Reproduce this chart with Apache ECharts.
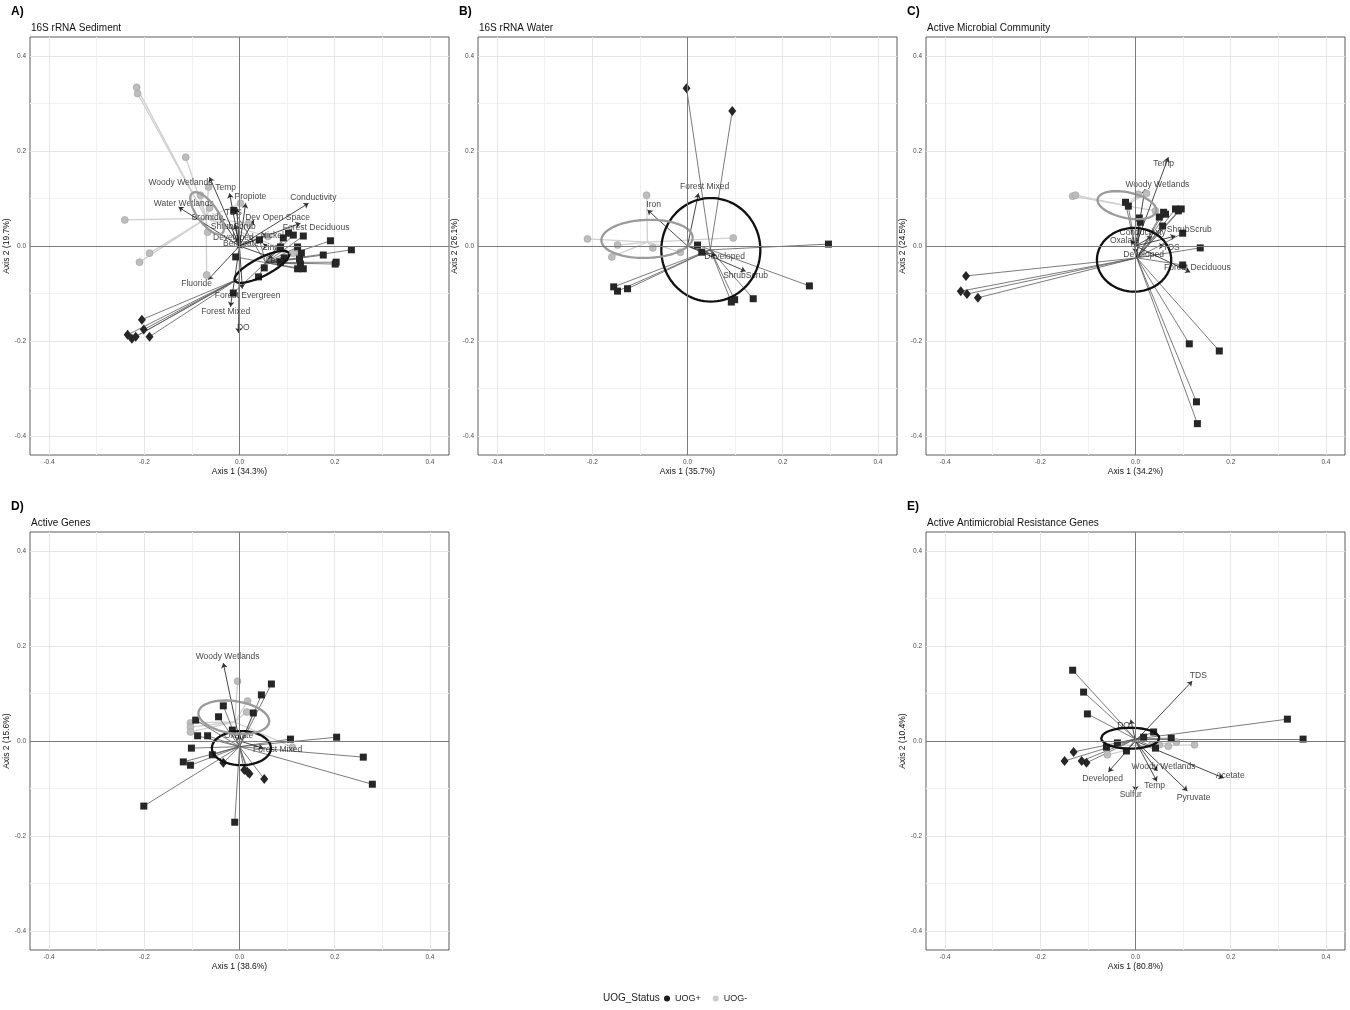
<!DOCTYPE html>
<html><head><meta charset="utf-8">
<script src="https://cdn.jsdelivr.net/npm/echarts/dist/echarts.min.js"></script>
<style>html,body{margin:0;padding:0;background:#fff}#c{width:1350px;height:1010px}</style>
</head><body><div id="c"></div>
<script>
// ---------- DATA (values in ordination axis units) ----------
const panelTags = ['A)', 'B)', 'C)', 'D)', 'E)'];
const panelTitles = ['16S rRNA Sediment', '16S rRNA Water', 'Active Microbial Community', 'Active Genes', 'Active Antimicrobial Resistance Genes'];
const axis1Names = ['Axis 1 (34.3%)', 'Axis 1 (35.7%)', 'Axis 1 (34.2%)', 'Axis 1 (38.6%)', 'Axis 1 (80.8%)'];
const axis2Names = ['Axis 2 (19.7%)', 'Axis 2 (26.1%)', 'Axis 2 (24.5%)', 'Axis 2 (15.6%)', 'Axis 2 (10.4%)'];
const tickValues = [-0.4, -0.2, 0.0, 0.2, 0.4];
const legendNames = ['UOG+', 'UOG-'];

// Panel A
const A_squares = [[0.042,0.013],[0.092,0.017],[0.103,0.027],[0.113,0.023],[0.134,0.021],[0.191,0.011],[0.235,-0.008],[0.086,-0.002],[0.122,-0.002],[0.130,-0.015],[0.176,-0.019],[0.126,-0.027],[0.128,-0.038],[0.122,-0.048],[0.134,-0.048],[0.201,-0.038],[0.203,-0.034],[0.094,-0.025],[0.086,-0.034],[0.052,-0.046],[0.040,-0.065],[-0.008,-0.023],[-0.013,-0.099],[-0.012,0.075]];
const A_diamonds = [[-0.205,-0.155],[-0.201,-0.176],[-0.189,-0.191],[-0.235,-0.187],[-0.226,-0.195],[-0.218,-0.191]];
const A_circles = [[-0.216,0.334],[-0.214,0.321],[-0.113,0.187],[-0.065,0.124],[-0.082,0.107],[-0.063,0.080],[-0.241,0.055],[-0.189,-0.015],[-0.210,-0.034],[-0.069,-0.061],[-0.067,0.029],[0.002,0.090],[0.019,0.048],[0.060,0.020],[0.113,-0.015]];
const A_centroids = {squares:[0.055,-0.035], diamonds:[-0.004,-0.070], circles:[-0.070,0.058]};
const A_ellipses = [{g:'UOG+',cx:0.047,cy:-0.044,a:0.064,b:0.019,ang:27},{g:'UOG-',cx:-0.068,cy:0.069,a:0.053,b:0.021,ang:-54}];
const A_arrows = [
 ['Woody Wetlands',-0.063,0.145,-0.124,0.134],['Temp',-0.021,0.111,-0.029,0.122],['Propiote',0.013,0.090,0.023,0.103],
 ['TDS',-0.006,0.080,-0.013,0.071],['Conductivity',0.145,0.090,0.155,0.101],['Water Wetlands',-0.128,0.082,-0.117,0.090],
 ['Bromide',-0.040,0.060,-0.067,0.059],['Dev Open Space',0.030,0.055,0.080,0.059],['ShrubScrub',-0.010,0.045,-0.013,0.040],
 ['Forest Deciduous',0.128,0.048,0.161,0.038],['Developed',-0.005,0.020,-0.013,0.017],['Nickel',0.060,0.025,0.069,0.021],
 ['Benzoate',0.000,0.005,0.003,0.005],['Zinc',0.060,0.000,0.065,-0.004],['Lead',0.070,-0.025,0.075,-0.030],
 ['Fluoride',-0.066,-0.071,-0.090,-0.080],['Forest Evergreen',0.006,-0.090,0.017,-0.105],['Forest Mixed',-0.019,-0.128,-0.029,-0.139],
 ['DO',-0.002,-0.183,0.008,-0.172]];

// Panel B
const B_squares = [[0.021,0.002],[0.030,-0.013],[0.296,0.004],[0.256,-0.084],[0.138,-0.111],[0.099,-0.113],[0.092,-0.118],[-0.155,-0.086],[-0.147,-0.095],[-0.126,-0.090]];
const B_diamonds = [[-0.002,0.332],[0.094,0.284]];
const B_circles = [[-0.086,0.107],[-0.210,0.015],[-0.147,0.002],[-0.159,-0.023],[-0.073,-0.004],[-0.015,-0.013],[0.096,0.017]];
const B_centroids = {squares:[0.048,-0.008], diamonds:[0.048,-0.008], circles:[-0.084,0.008]};
const B_ellipses = [{g:'UOG+',cx:0.049,cy:-0.008,a:0.104,b:0.109,ang:0},{g:'UOG-',cx:-0.085,cy:0.015,a:0.096,b:0.040,ang:2}];
const B_arrows = [['Forest Mixed',0.023,0.111,0.036,0.124],['Iron',-0.084,0.076,-0.071,0.086],['Developed',0.060,-0.020,0.078,-0.023],['ShrubScrub',0.122,-0.053,0.122,-0.063]];

// Panel C
const C_squares = [[-0.021,0.092],[-0.015,0.084],[0.008,0.059],[0.010,0.050],[0.059,0.071],[0.050,0.061],[0.063,0.067],[0.084,0.078],[0.090,0.074],[0.096,0.078],[0.057,0.042],[0.099,0.027],[0.136,-0.004],[0.099,-0.040],[0.113,-0.206],[0.176,-0.221],[0.128,-0.328],[0.130,-0.374]];
const C_diamonds = [[-0.356,-0.063],[-0.367,-0.095],[-0.354,-0.101],[-0.331,-0.109]];
const C_circles = [[-0.132,0.105],[-0.126,0.107],[0.006,0.109],[0.023,0.111],[0.042,0.074]];
const C_centroids = {squares:[0.003,-0.025], diamonds:[0.003,-0.025], circles:[-0.020,0.085]};
const C_ellipses = [{g:'UOG+',cx:-0.003,cy:-0.029,a:0.078,b:0.067,ang:0},{g:'UOG-',cx:-0.018,cy:0.086,a:0.063,b:0.027,ang:-12}];
const C_arrows = [['Temp',0.069,0.187,0.059,0.174],['Woody Wetlands',0.020,0.120,0.046,0.130],['ShrubScrub',0.084,0.021,0.113,0.034],['Conductivity',0.035,0.020,0.015,0.029],['Oxalate',-0.010,0.012,-0.023,0.011],['TDS',0.060,0.000,0.075,-0.004],['Developed',0.000,-0.015,0.017,-0.019],['Forest Deciduous',0.115,-0.055,0.130,-0.046]];

// Panel D
const D_squares = [[0.067,0.120],[0.046,0.097],[-0.034,0.074],[0.029,0.059],[-0.044,0.051],[-0.092,0.044],[-0.015,0.023],[-0.088,0.011],[-0.067,0.011],[0.107,0.004],[0.204,0.008],[-0.101,-0.015],[-0.057,-0.029],[-0.118,-0.044],[-0.103,-0.051],[0.260,-0.034],[0.279,-0.091],[-0.201,-0.137],[-0.010,-0.171]];
const D_diamonds = [[-0.034,-0.046],[0.010,-0.061],[0.017,-0.065],[0.021,-0.069],[0.052,-0.080]];
const D_circles = [[-0.004,0.126],[0.017,0.084],[0.015,0.061],[-0.103,0.038],[-0.103,0.029],[-0.103,0.019],[0.111,-0.013]];
const D_centroids = {squares:[0.000,-0.012], diamonds:[0.000,-0.012], circles:[-0.010,0.040]};
const D_ellipses = [{g:'UOG+',cx:0.004,cy:-0.015,a:0.062,b:0.036,ang:0},{g:'UOG-',cx:-0.012,cy:0.050,a:0.075,b:0.034,ang:-8}];
const D_arrows = [['Woody Wetlands',-0.034,0.164,-0.025,0.177],['Oxalate',0.000,0.012,-0.002,0.011],['Forest Mixed',0.050,-0.015,0.080,-0.019]];

// Panel E
const E_squares = [[-0.132,0.149],[-0.109,0.103],[-0.101,0.057],[0.319,0.046],[0.352,0.004],[0.038,0.019],[0.075,0.006],[0.017,0.008],[-0.038,-0.004],[-0.061,-0.013],[-0.019,-0.021],[0.042,-0.015]];
const E_diamonds = [[-0.130,-0.023],[-0.149,-0.042],[-0.113,-0.042],[-0.103,-0.046]];
const E_circles = [[0.124,-0.008],[0.086,-0.002],[0.069,-0.011],[0.034,-0.008],[-0.036,-0.008],[-0.059,-0.029],[0.050,-0.008]];
const E_centroids = {squares:[0.000,0.004], diamonds:[0.000,0.004], circles:[0.020,-0.010]};
const E_ellipses = [{g:'UOG+',cx:-0.011,cy:0.006,a:0.061,b:0.022,ang:0}];
const E_arrows = [['TDS',0.119,0.126,0.132,0.137],['DO',-0.010,0.045,-0.025,0.032],['Woody Wetlands',0.046,-0.063,0.059,-0.055],['Acetate',0.185,-0.078,0.199,-0.072],['Developed',-0.057,-0.065,-0.069,-0.080],['Temp',0.045,-0.085,0.040,-0.093],['Sulfur',0.000,-0.105,-0.010,-0.114],['Pyruvate',0.109,-0.105,0.122,-0.120]];

// ---------- LAYOUT / STYLE ----------
const FONT = 'Liberation Sans, Arial, sans-serif';
const gridPos = [[30,37],[478,37],[926,37],[30,532],[926,532]];
const GW = 419, GH = 418;
const panels = [
 {sq:A_squares, dm:A_diamonds, ci:A_circles, ctr:A_centroids, ell:A_ellipses, arr:A_arrows},
 {sq:B_squares, dm:B_diamonds, ci:B_circles, ctr:B_centroids, ell:B_ellipses, arr:B_arrows},
 {sq:C_squares, dm:C_diamonds, ci:C_circles, ctr:C_centroids, ell:C_ellipses, arr:C_arrows},
 {sq:D_squares, dm:D_diamonds, ci:D_circles, ctr:D_centroids, ell:D_ellipses, arr:D_arrows},
 {sq:E_squares, dm:E_diamonds, ci:E_circles, ctr:E_centroids, ell:E_ellipses, arr:E_arrows}
];
const BLACK = '#262626', GREY = '#bdbdbd';
const splitColors = ['rgba(0,0,0,0)','rgba(0,0,0,0)','#e6e6e6','rgba(0,0,0,0)','rgba(0,0,0,0)','rgba(0,0,0,0)','rgba(0,0,0,0)','#f1f1f1','rgba(0,0,0,0)','rgba(0,0,0,0)'];

function tickFmt(v){
  for (const t of tickValues) if (Math.abs(v - t) < 1e-6) return t.toFixed(1);
  return '';
}
function ellipsePts(e){
  const pts = [], t = e.ang * Math.PI / 180;
  for (let i = 0; i <= 96; i++) {
    const th = i / 96 * 2 * Math.PI, u = e.a * Math.cos(th), v = e.b * Math.sin(th);
    pts.push([e.cx + u*Math.cos(t) - v*Math.sin(t), e.cy + u*Math.sin(t) + v*Math.cos(t)]);
  }
  return pts;
}

const grids = [], xAxes = [], yAxes = [], series = [], titles = [];
panels.forEach((p, i) => {
  const [gl, gt] = gridPos[i];
  grids.push({left:gl, top:gt, width:GW, height:GH, show:true, borderColor:'#333', borderWidth:0.8, backgroundColor:'#fff'});
  const axBase = {gridIndex:i, type:'value', min:-0.44, max:0.44, interval:0.02,
    nameLocation:'middle', nameTextStyle:{fontSize:8.5, color:'#111', fontFamily:FONT},
    axisLine:{show:false}, axisTick:{show:false},
    axisLabel:{fontSize:6.5, color:'#4d4d4d', fontFamily:FONT, margin:4, formatter:tickFmt, showMinLabel:true, showMaxLabel:true},
    splitLine:{show:true, showMinLine:true, showMaxLine:true, lineStyle:{color:splitColors, width:1}}};
  xAxes.push(Object.assign({}, axBase, {name:axis1Names[i], nameGap:9}));
  yAxes.push(Object.assign({}, axBase, {name:axis2Names[i], nameGap:15}));
  titles.push({text:panelTags[i], left:gl-19, top:gt-31, padding:0, textStyle:{fontSize:12, fontWeight:'bold', color:'#000', fontFamily:FONT}});
  titles.push({text:panelTitles[i], left:gl+1, top:gt-14, padding:0, textStyle:{fontSize:10, fontWeight:'normal', color:'#111', fontFamily:FONT}});

  const ax = {xAxisIndex:i, yAxisIndex:i};
  // zero reference lines
  series.push(Object.assign({type:'line', data:[], silent:true,
    markLine:{silent:true, symbol:['none','none'], label:{show:false}, lineStyle:{color:'#7a7a7a', width:1, type:'solid', opacity:1},
      data:[{xAxis:0},{yAxis:0}]}}, ax));
  // spiders
  const spider = [];
  p.ci.forEach(pt => spider.push({coords:[p.ctr.circles, pt], lineStyle:{color:'#d0d0d0', width:1.3, opacity:1}}));
  p.sq.forEach(pt => spider.push({coords:[p.ctr.squares, pt], lineStyle:{color:'#5a5a5a', width:0.8, opacity:1}}));
  p.dm.forEach(pt => spider.push({coords:[p.ctr.diamonds, pt], lineStyle:{color:'#5a5a5a', width:0.8, opacity:1}}));
  series.push(Object.assign({type:'lines', coordinateSystem:'cartesian2d', polyline:false, silent:true, symbol:['none','none'],
    lineStyle:{opacity:1}, data:spider}, ax));
  // ellipses
  p.ell.forEach(e => series.push(Object.assign({type:'line', silent:true, showSymbol:false, symbol:'none', smooth:false,
    lineStyle:{color: e.g === 'UOG+' ? '#111' : '#9a9a9a', width:2.3}, data:ellipsePts(e)}, ax)));
  // points
  series.push(Object.assign({type:'scatter', name:'UOG-', symbol:'circle', symbolSize:7, data:p.ci,
    itemStyle:{color:GREY, borderColor:'#a3a3a3', borderWidth:0.6, opacity:1}}, ax));
  series.push(Object.assign({type:'scatter', name:'UOG+', symbol:'rect', symbolSize:7, data:p.sq,
    itemStyle:{color:BLACK, opacity:1}}, ax));
  series.push(Object.assign({type:'scatter', name:'UOG+', symbol:'diamond', symbolSize:[8,10], data:p.dm,
    itemStyle:{color:BLACK, opacity:1}}, ax));
  // arrows
  series.push(Object.assign({type:'lines', coordinateSystem:'cartesian2d', polyline:false, silent:true,
    symbol:['none','arrow'], symbolSize:5, lineStyle:{color:'#333', width:0.9, opacity:1},
    data:p.arr.map(a => ({coords:[[0,0],[a[1],a[2]]]}))}, ax));
  // labels
  series.push(Object.assign({type:'scatter', silent:true, symbolSize:1, itemStyle:{color:'rgba(0,0,0,0)'},
    label:{show:true, position:'inside', formatter:'{b}', fontSize:8.5, color:'#111', fontFamily:FONT},
    data:p.arr.map(a => ({name:a[0], value:[a[3], a[4]]}))}, ax));
});

const chart = echarts.init(document.getElementById('c'), null, {renderer:'canvas'});
chart.setOption({
  backgroundColor:'#fff', animation:false,
  title:titles, grid:grids, xAxis:xAxes, yAxis:yAxes, series:series,
  legend:{left:664, top:994, itemWidth:6, itemHeight:6, itemGap:12, icon:'circle', selectedMode:false, padding:0,
    textStyle:{fontSize:9, color:'#222', fontFamily:FONT},
    data:[{name:legendNames[0], itemStyle:{color:'#1a1a1a', borderWidth:0}}, {name:legendNames[1], itemStyle:{color:'#cccccc', borderWidth:0}}]},
  graphic:[{type:'text', left:603, top:993, style:{text:'UOG_Status', fontSize:10, fill:'#222', fontFamily:FONT}}]
});
</script></body></html>
